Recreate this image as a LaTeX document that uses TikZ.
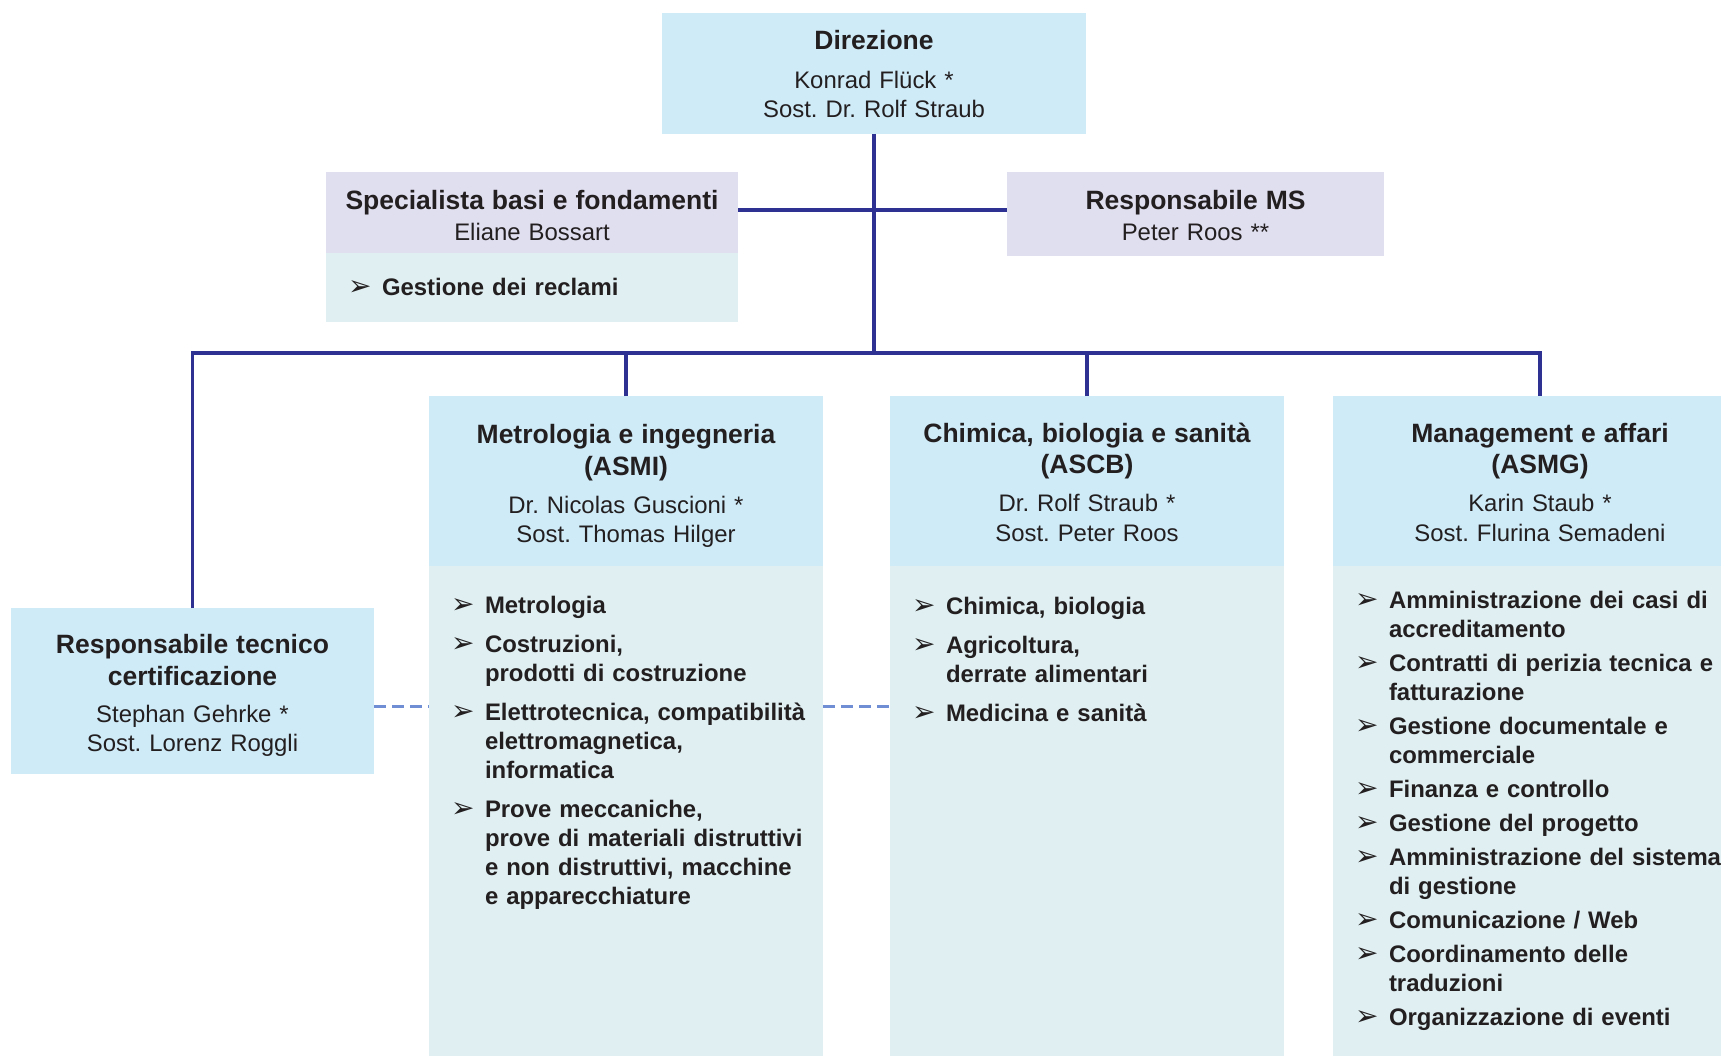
\documentclass[tikz,border=0pt]{standalone}
\usepackage{fontspec}
\setmainfont{Liberation Sans}
\newfontfamily\symfont{DejaVu Sans}
\usetikzlibrary{positioning}

\definecolor{headblue}{RGB}{207,235,248}
\definecolor{listblue}{RGB}{223,239,242}
\definecolor{lavender}{RGB}{224,223,240}
\definecolor{linkblue}{RGB}{46,49,146}
\definecolor{dashblue}{RGB}{111,142,212}
\definecolor{inkgray}{RGB}{35,31,32}

\frenchspacing
\newcommand\titlefont{\fontsize{26.5}{29}\selectfont\bfseries}
\newcommand\namefont{\fontsize{23.9}{29}\selectfont}
\newcommand\arrowmark{{\symfont\fontsize{28}{28}\selectfont ➢}}
\newcommand\task[1]{\hangindent=34pt\hangafter=1\noindent\makebox[34pt][l]{\arrowmark}#1\par}

\begin{document}
\begin{tikzpicture}[x=1pt,y=-1pt,
    every node/.style={text=inkgray},
    head/.style={fill=headblue,anchor=north,inner sep=0pt,outer sep=0pt,
                 align=center,font=\namefont},
    lilac/.style={head,fill=lavender},
    tasks/.style={fill=listblue,inner sep=0pt,outer sep=0pt,font=\namefont\bfseries,
                  execute at begin node={\leftskip=22pt\parskip=#1}},
    tasks/.default=10pt,
    link/.style={draw=linkblue,line width=3.3pt},
    dotlink/.style={draw=dashblue,line width=3pt,dash pattern=on 12pt off 6pt}]
  \useasboundingbox (0,0) rectangle (1721,1056);

  \node[head,text width=424pt,text height=37pt,text depth=84pt] (dir) at (874,13)
    {{\titlefont Direzione}\\[9.5pt]Konrad Flück *\\Sost. Dr. Rolf Straub};

  \node[lilac,text width=412pt,text height=37.5pt,text depth=43.5pt] (spec) at (532,172)
    {{\titlefont Specialista basi e fondamenti}\\[2pt]Eliane Bossart};
  \node[tasks,text width=412pt,text height=43pt,text depth=26pt,below=0pt of spec] (specl)
    {\task{Gestione dei reclami}};
  \node[lilac,text width=377pt,text height=37.5pt,text depth=46.8pt] (ms) at (1195.5,172)
    {{\titlefont Responsabile MS}\\[2pt]Peter Roos **};

  \node[head,text width=363pt,text height=45pt,text depth=121pt] (rtc) at (192.5,608)
    {{\titlefont Responsabile tecnico\\[3pt]certificazione}\\[8pt]Stephan Gehrke *\\Sost. Lorenz Roggli};

  \node[head,text width=394pt,text height=47pt,text depth=123pt] (asmi) at (626,396)
    {{\titlefont Metrologia e ingegneria\\[3pt](ASMI)}\\[9pt]Dr. Nicolas Guscioni *\\Sost. Thomas Hilger};
  \node[tasks,text width=394pt,text height=47pt,text depth=450pt,below=0pt of asmi] (asmil)
    {\task{Metrologia}
     \task{Costruzioni,\newline prodotti di costruzione}
     \task{Elettrotecnica, compatibilità\newline elettromagnetica,\newline informatica}
     \task{Prove meccaniche,\newline prove di materiali distruttivi\newline e non distruttivi, macchine\newline e apparecchiature}};

  \node[head,text width=394pt,text height=46pt,text depth=124pt] (ascb) at (1087,396)
    {{\titlefont Chimica, biologia e sanità\\[3pt](ASCB)}\\[9pt]Dr. Rolf Straub *\\Sost. Peter Roos};
  \node[tasks,text width=394pt,text height=48pt,text depth=450pt,below=0pt of ascb] (ascbl)
    {\task{Chimica, biologia}
     \task{Agricoltura,\newline derrate alimentari}
     \task{Medicina e sanità}};

  \node[head,text width=414pt,text height=46pt,text depth=124pt] (asmg) at (1540,396)
    {{\titlefont Management e affari\\[3pt](ASMG)}\\[9pt]Karin Staub *\\Sost. Flurina Semadeni};
  \node[tasks=5pt,text width=414pt,text height=42pt,text depth=450pt,below=0pt of asmg] (asmgl)
    {\task{Amministrazione dei casi di\newline accreditamento}
     \task{Contratti di perizia tecnica e\newline fatturazione}
     \task{Gestione documentale e\newline commerciale}
     \task{Finanza e controllo}
     \task{Gestione del progetto}
     \task{Amministrazione del sistema\newline di gestione}
     \task{Comunicazione / Web}
     \task{Coordinamento delle\newline traduzioni}
     \task{Organizzazione di eventi}};

  \coordinate (hub) at (874,210);
  \coordinate (bus) at (874,353);
  \coordinate (dash) at (0,706);

  \draw[link] (dir.south) -- (bus);
  \draw[link] (hub -| spec.east) -- (hub -| ms.west);
  \draw[link] (rtc.north) |- (bus -| asmg.north) -- (asmg.north);
  \draw[link] (asmi.north) -- (asmi.north |- bus);
  \draw[link] (ascb.north) -- (ascb.north |- bus);
  \draw[dotlink] (dash -| rtc.east) -- (dash -| asmil.west);
  \draw[dotlink] (dash -| asmil.east) -- (dash -| ascbl.west);
\end{tikzpicture}
\end{document}
